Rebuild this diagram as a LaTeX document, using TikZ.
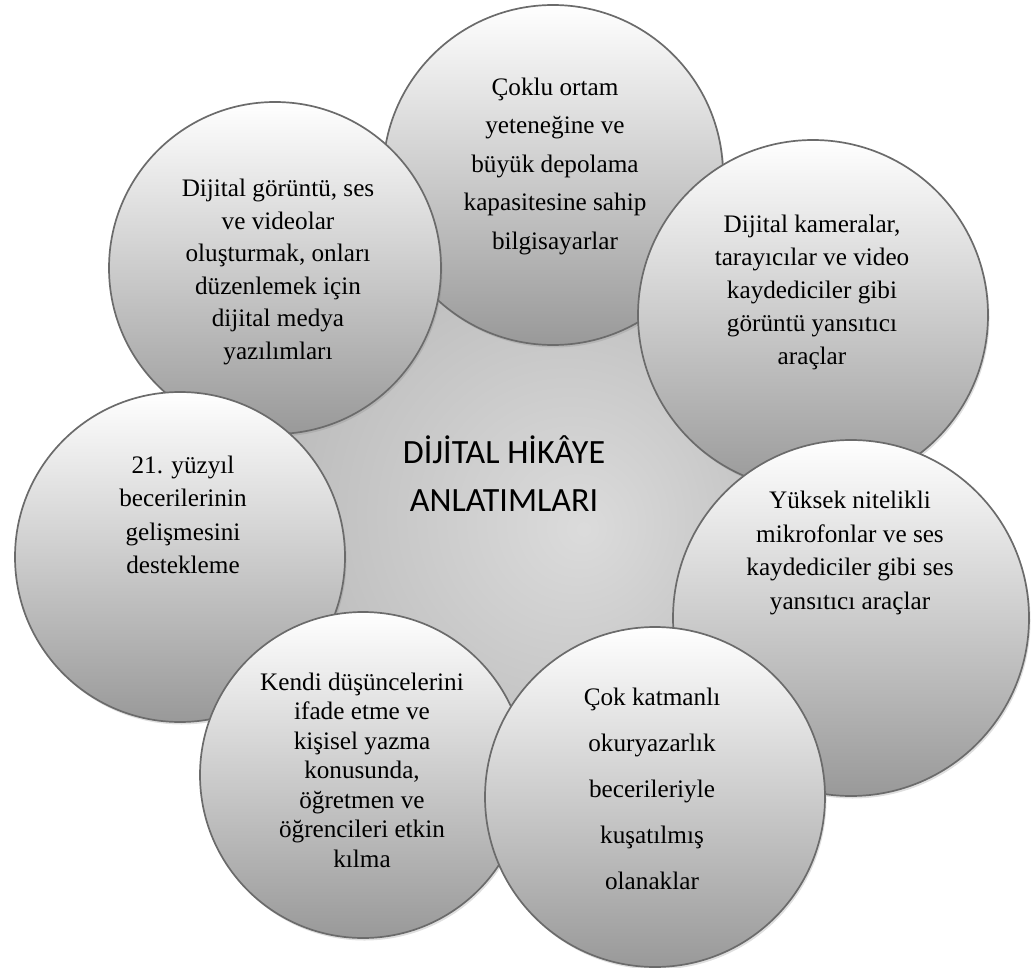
\documentclass[tikz,border=0pt]{standalone}
\usepackage{fontspec}
\setmainfont{Liberation Serif}
\newfontfamily\hubfont{Carlito}
\usetikzlibrary{shadows}

\pgfdeclareradialshading{hubshade}{\pgfpoint{6bp}{-4bp}}{color(0bp)=(black!14); color(22bp)=(black!26); color(50bp)=(black!46)}

\begin{document}
\begin{tikzpicture}[x=1pt,y=-1pt,
    bubble/.style={circle, draw=black!58, line width=1.7pt, top color=white, middle color=black!12, bottom color=black!40,
      minimum size=#1, inner sep=0pt, drop shadow={shadow xshift=1.5pt, shadow yshift=-2.5pt, opacity=0.25}},
    txt/.style={align=center, inner sep=0pt, font=\fontsize{25.2}{#1}\selectfont}]
    \useasboundingbox (0,0) rectangle (1035,968);

    % draw central circle
    \node[circle, inner sep=0pt, minimum size=620, shading=hubshade] (hub) at (510,480) {};

    % draw outer circles, back to front
    \foreach \name/\x/\y/\d in {ctop/553/175/340, ctopleft/275/268/332, ctopright/813/315/350,
        cleft/180/557/330, cright/851/618/356, cbotleft/363/775/326, cbotright/655/797/340}
      \node[bubble=\d] (\name) at (\x,\y) {};

    % draw texts
    \node[align=center, font=\hubfont\fontsize{34}{48}\selectfont] (hubtext) at (504,474) {DİJİTAL HİKÂYE\\ANLATIMLARI};
    \node[txt=38.5] (ttop) at (555,166) {Çoklu ortam\\yeteneğine ve\\büyük depolama\\kapasitesine sahip\\bilgisayarlar};
    \node[txt=32.5] (ttopleft) at (278,272) {Dijital görüntü, ses\\ve videolar\\oluşturmak, onları\\düzenlemek için\\dijital medya\\yazılımları};
    \node[txt=33] (ttopright) at (812,292) {Dijital kameralar,\\tarayıcılar ve video\\kaydediciler gibi\\görüntü yansıtıcı\\araçlar};
    \node[txt=33.5] (tleft) at (183,515) {21. yüzyıl\\becerilerinin\\gelişmesini\\destekleme};
    \node[txt=33.5] (tright) at (850,553) {Yüksek nitelikli\\mikrofonlar ve ses\\kaydediciler gibi ses\\yansıtıcı araçlar};
    \node[txt=29.5] (tbotleft) at (362,770) {Kendi düşüncelerini\\ifade etme ve\\kişisel yazma\\konusunda,\\öğretmen ve\\öğrencileri etkin\\kılma};
    \node[txt=46] (tbotright) at (652,789) {Çok katmanlı\\okuryazarlık\\becerileriyle\\kuşatılmış\\olanaklar};
\end{tikzpicture}
\end{document}
